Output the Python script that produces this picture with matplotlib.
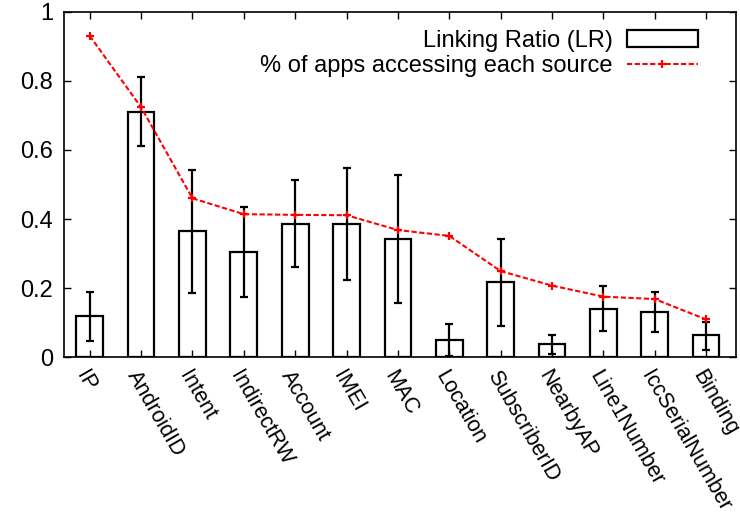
import matplotlib.pyplot as plt
import numpy as np

plt.rcParams['font.family'] = ['Liberation Sans', 'DejaVu Sans']

sources = ['IP', 'AndroidID', 'Intent', 'IndirectRW', 'Account', 'IMEI', 'MAC',
           'Location', 'SubscriberID', 'NearbyAP', 'Line1Number',
           'IccSerialNumber', 'Binding']
lr = [0.119, 0.711, 0.365, 0.305, 0.386, 0.386, 0.342,
      0.049, 0.216, 0.037, 0.140, 0.130, 0.065]
lr_hi = [0.189, 0.812, 0.541, 0.435, 0.513, 0.549, 0.528,
         0.096, 0.341, 0.064, 0.205, 0.188, 0.102]
lr_lo = [0.045, 0.611, 0.186, 0.175, 0.261, 0.224, 0.157,
         0.003, 0.091, 0.009, 0.075, 0.072, 0.021]
pct_apps = [0.931, 0.724, 0.460, 0.414, 0.412, 0.411, 0.368,
            0.351, 0.249, 0.207, 0.175, 0.168, 0.109]

x = np.arange(len(sources))
lr = np.array(lr)
yerr = [lr - np.array(lr_lo), np.array(lr_hi) - lr]

fig = plt.figure(figsize=(7.4, 5.14), dpi=100)
ax = fig.add_axes([0.0865, 0.3054, 0.908, 0.6713])

bars = ax.bar(x, lr, width=0.52, facecolor='white', edgecolor='black',
              linewidth=1.6, label='Linking Ratio (LR)')
ax.errorbar(x, lr, yerr=yerr, fmt='none', ecolor='black', elinewidth=1.6,
            capsize=3, capthick=1.6)
line, = ax.plot(x, pct_apps, color='red', linestyle=(0, (2.5, 1.2)),
                linewidth=1.5, marker='+', markersize=6, markeredgewidth=1.6,
                label='% of apps accessing each source')

ax.set_xlim(-0.5, 12.58)
ax.set_ylim(0, 1)
ax.set_yticks([0, 0.2, 0.4, 0.6, 0.8, 1])
ax.set_yticklabels(['0', '0.2', '0.4', '0.6', '0.8', '1'], fontsize=17)
ax.set_xticks(x)
ax.set_xticklabels(sources, fontsize=15.5, rotation=-60, ha='left', va='top',
                   rotation_mode='anchor')
ax.tick_params(direction='in', top=True, right=True, length=5, width=1)
ax.tick_params(axis='x', pad=7)
ax.tick_params(axis='y', pad=8)
for s in ax.spines.values():
    s.set_linewidth(1.2)

ax.legend([bars, line], ['Linking Ratio (LR)', '% of apps accessing each source'],
          loc='upper right', bbox_to_anchor=(0.975, 1.01), frameon=False,
          markerfirst=False, fontsize=17, handlelength=3.0,
          labelspacing=0.15, handletextpad=0.6)

fig.savefig('out.png', dpi=100)
